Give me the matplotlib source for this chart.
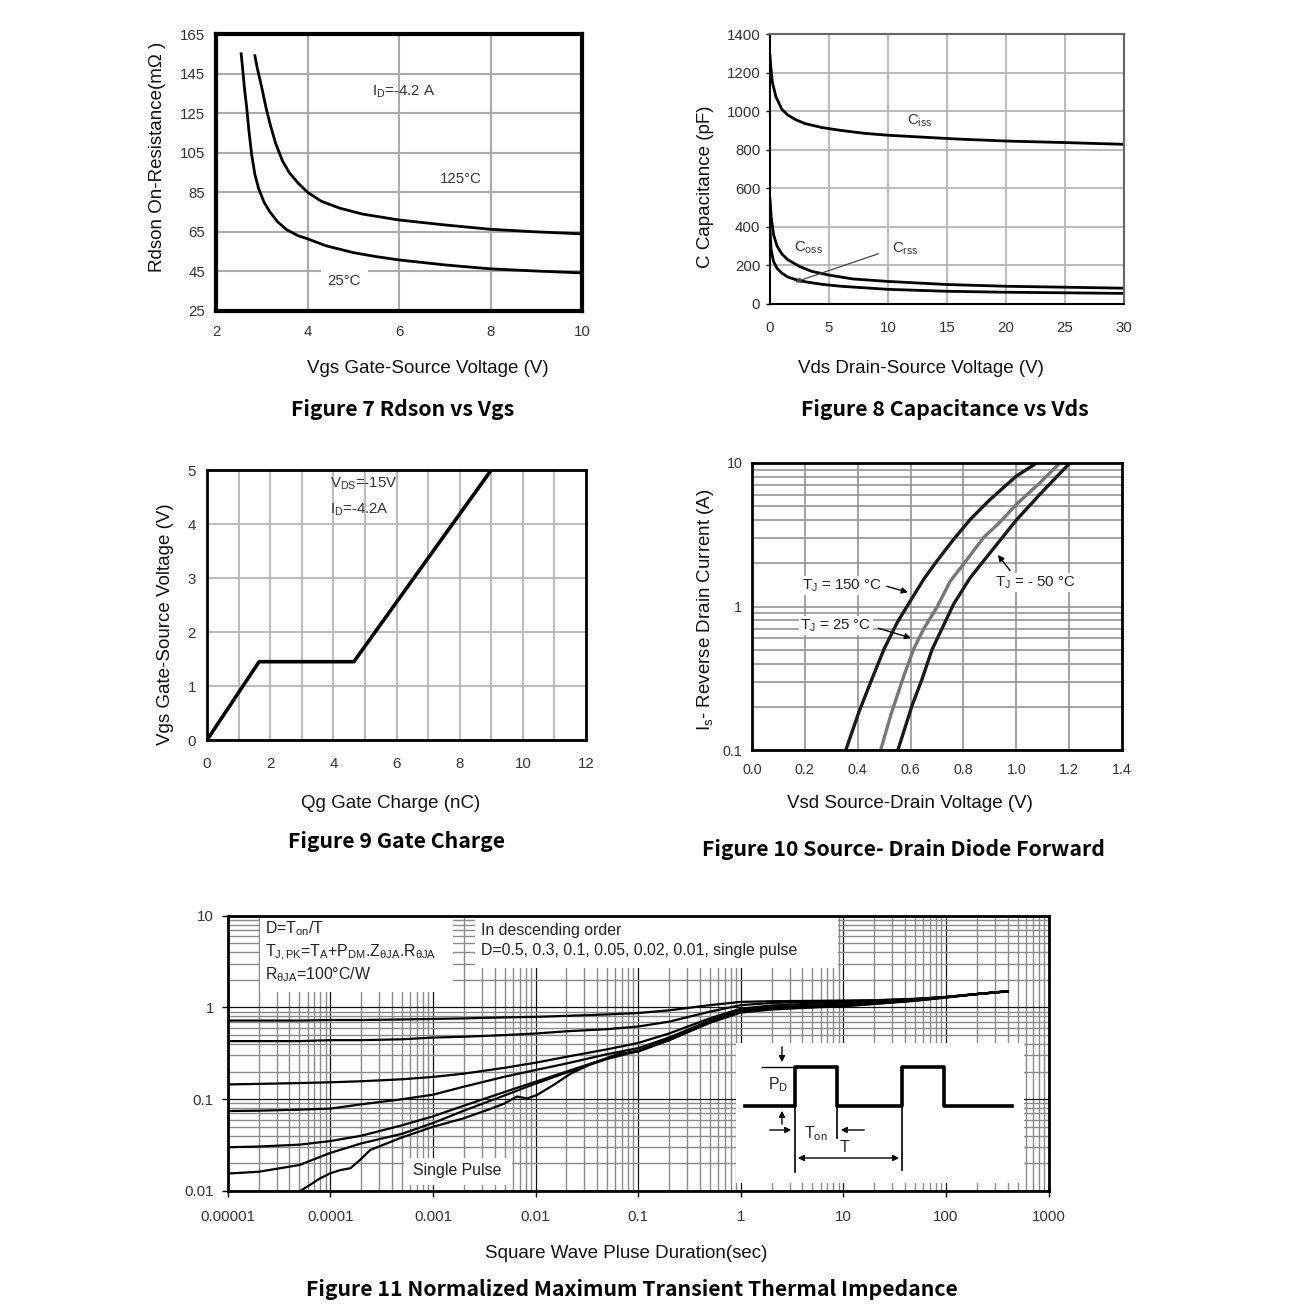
import numpy as np
import matplotlib
matplotlib.use('Agg')
import matplotlib.pyplot as plt
from matplotlib.patches import Rectangle
from matplotlib.ticker import LogLocator, NullFormatter

plt.rcParams['font.family'] = ['Liberation Sans', 'DejaVu Sans']
plt.rcParams['mathtext.fontset'] = 'custom'
plt.rcParams['mathtext.rm'] = 'Liberation Sans'
plt.rcParams['mathtext.it'] = 'Liberation Sans'
plt.rcParams['mathtext.default'] = 'regular'

# ---- data: Figure 7 Rdson vs Vgs
vgs_25 = [2.55, 2.58, 2.62, 2.67, 2.72, 2.78, 2.85, 2.93, 3.05, 3.18, 3.35, 3.55, 3.8, 4.0, 4.4, 5.0, 5.5, 6.0, 7.0, 8.0, 9.0, 9.95]
rds_25 = [155, 148, 138, 128, 116, 104, 94, 87, 80, 75, 70, 66, 63, 61.5, 58, 54.5, 52.5, 50.8, 48.3, 46.3, 45.2, 44.3]
vgs_125 = [2.85, 2.9, 3.0, 3.1, 3.2, 3.3, 3.45, 3.6, 3.8, 4.0, 4.3, 4.7, 5.2, 6.0, 7.0, 8.0, 9.0, 10.0]
rds_125 = [154, 148, 138, 127, 118, 110, 101, 95, 89.5, 85, 80.5, 77, 74, 71, 68.5, 66.3, 65, 64]

# ---- data: Figure 8 Capacitance vs Vds
vds_iss = [0, 0.05, 0.2, 0.5, 1.0, 1.5, 2.2, 3, 4.4, 6, 8, 10, 13, 16, 20, 25, 30]
c_iss = [1290, 1240, 1150, 1075, 1010, 980, 955, 935, 915, 900, 885, 875, 865, 855, 845, 837, 828]
vds_oss = [0, 0.1, 0.3, 0.6, 1, 1.5, 2.5, 3.5, 5, 7, 10, 15, 20, 25, 30]
c_oss = [545, 450, 360, 300, 260, 230, 195, 170, 150, 130, 117, 101, 92, 87, 82]
vds_rss = [0, 0.1, 0.3, 0.6, 1, 1.5, 2.2, 3, 4.4, 6, 10, 15, 20, 25, 30]
c_rss = [380, 280, 220, 185, 160, 140, 126, 115, 102, 92, 76, 66, 61, 58, 55]

# ---- data: Figure 9 Gate charge
qg = [0, 1.65, 4.65, 9.0]
vgs_q = [0, 1.45, 1.45, 5.0]

# ---- data: Figure 10 Source-drain diode forward
vsd_150 = [0.355, 0.405, 0.45, 0.5, 0.55, 0.6, 0.65, 0.70, 0.763, 0.826, 0.901, 1.0, 1.077]
is_150 = [0.1, 0.185, 0.3, 0.507, 0.776, 1.1, 1.55, 2.08, 2.94, 4.05, 5.57, 8.1, 10]
vsd_25 = [0.487, 0.525, 0.575, 0.612, 0.65, 0.70, 0.75, 0.80, 0.876, 0.94, 1.0, 1.09, 1.165]
is_25 = [0.1, 0.175, 0.331, 0.507, 0.7, 0.99, 1.5, 1.97, 3.02, 3.9, 5.14, 7.3, 10]
vsd_m50 = [0.552, 0.606, 0.644, 0.681, 0.763, 0.826, 0.901, 1.0, 1.10, 1.203]
is_m50 = [0.1, 0.205, 0.314, 0.5, 1.04, 1.59, 2.37, 4.0, 6.35, 10]

# ---- data: Figure 11 Transient thermal impedance
tp = [1e-5, 2e-5, 5e-5, 1e-4, 2e-4, 5e-4, 1e-3, 2e-3, 5e-3, 1e-2, 2e-2, 5e-2,
      1e-1, 2e-1, 5e-1, 1, 2, 5, 10, 20, 50, 100, 200, 400]
z_05 = [0.72, 0.72, 0.72, 0.73, 0.73, 0.74, 0.75, 0.76, 0.78, 0.79, 0.81, 0.84,
        0.87, 0.93, 1.06, 1.15, 1.17, 1.18, 1.19, 1.2, 1.24, 1.3, 1.4, 1.5]
z_03 = [0.43, 0.43, 0.43, 0.44, 0.44, 0.45, 0.47, 0.48, 0.5, 0.52, 0.55, 0.58,
        0.62, 0.7, 0.9, 1.06, 1.12, 1.15, 1.17, 1.19, 1.24, 1.3, 1.4, 1.5]
z_01 = [0.145, 0.147, 0.15, 0.153, 0.157, 0.165, 0.175, 0.19, 0.22, 0.25, 0.29, 0.35,
        0.41, 0.52, 0.76, 0.97, 1.05, 1.1, 1.13, 1.17, 1.23, 1.3, 1.4, 1.5]
z_005 = [0.0745, 0.075, 0.077, 0.079, 0.088, 0.1, 0.112, 0.137, 0.176, 0.208, 0.245, 0.31,
         0.36, 0.47, 0.72, 0.93, 1.0, 1.05, 1.08, 1.13, 1.22, 1.3, 1.4, 1.5]
z_002 = [0.030, 0.0305, 0.032, 0.035, 0.04, 0.052, 0.065, 0.085, 0.12, 0.155, 0.2, 0.28,
         0.34, 0.45, 0.7, 0.92, 0.99, 1.03, 1.06, 1.11, 1.2, 1.29, 1.4, 1.5]
z_001 = [0.0155, 0.0162, 0.0192, 0.026, 0.033, 0.042, 0.055, 0.075, 0.11, 0.148, 0.195, 0.275,
         0.335, 0.44, 0.69, 0.9, 0.97, 1.01, 1.04, 1.1, 1.19, 1.29, 1.4, 1.5]
tp_sp = [5.07e-5, 6.3e-5, 7.9e-5, 1e-4, 1.25e-4, 1.57e-4, 1.95e-4, 2.45e-4, 3.55e-4, 5.2e-4,
         1e-3, 2e-3, 3.35e-3, 4.9e-3, 6.6e-3, 8.3e-3, 1.03e-2, 1.5e-2, 2.2e-2, 3.6e-2, 6.6e-2,
         0.1, 0.2, 0.5, 1, 2, 5, 10, 20, 50, 100, 200, 400]
z_sp = [0.01, 0.0116, 0.0137, 0.0156, 0.0169, 0.0177, 0.0218, 0.028, 0.033, 0.039,
        0.05, 0.062, 0.076, 0.089, 0.107, 0.102, 0.111, 0.143, 0.19, 0.246, 0.315,
        0.33, 0.44, 0.68, 0.88, 0.95, 1.0, 1.03, 1.09, 1.18, 1.28, 1.4, 1.5]
z_curves = [z_05, z_03, z_01, z_005, z_002, z_001]

W, H = 1291, 1315
fig = plt.figure(figsize=(W / 100, H / 100), dpi=100)


def box(x0, y0, x1, y1):
    return fig.add_axes([x0 / W, 1 - y1 / H, (x1 - x0) / W, (y1 - y0) / H])


def ftext(x, y, s, **kw):
    kw.setdefault('ha', 'center')
    kw.setdefault('va', 'center')
    fig.text(x / W, 1 - y / H, s, **kw)


title_font = dict(family=['Noto Sans CJK SC', 'DejaVu Sans'], fontweight='bold', fontsize=15.3)
lab = dict(fontsize=13.5, color='#111')
TICK = '#333333'
ANN = '#333333'
TS = 10.8  # tick label size
AS = 10.8  # annotation size

# ================= Figure 7
ax = box(216, 34, 582, 311)
ax.plot(vgs_25, rds_25, color='k', lw=2)
ax.plot(vgs_125, rds_125, color='k', lw=2)
ax.set_xlim(2, 10)
ax.set_ylim(25, 165)
ax.set_xticks(range(2, 11, 2))
ax.set_yticks(range(25, 166, 20))
ax.grid(color='#ababab', lw=1.5)
ax.set_axisbelow(True)
for s in ax.spines.values():
    s.set_linewidth(3)
    s.set_color('k')
ax.tick_params(axis='y', length=0, labelsize=TS, labelcolor=TICK, pad=8)
ax.tick_params(axis='x', length=0, labelsize=TS, labelcolor=TICK, pad=10)
ax.text(5.4, 136, r'I$_D$=-4.2 A', fontsize=AS, color=ANN, va='center')
ax.text(6.9, 91.6, '125°C', fontsize=AS, color=ANN, va='center')
ax.text(4.8, 40.3, '25°C', fontsize=AS, color=ANN, va='center', ha='center',
        bbox=dict(fc='white', ec='none', pad=5))
ftext(428, 368, 'Vgs Gate-Source Voltage (V)', **lab)
ftext(158, 157, 'Rdson On-Resistance(m\u03a9 )', rotation=90, **lab)
ftext(403, 410, 'Figure 7 Rdson vs Vgs', **title_font)

# ================= Figure 8
ax = box(770, 34, 1124, 304)
ax.plot(vds_iss, c_iss, color='k', lw=2)
ax.plot(vds_oss, c_oss, color='k', lw=2)
ax.plot(vds_rss, c_rss, color='k', lw=2)
ax.set_xlim(0, 30)
ax.set_ylim(0, 1400)
ax.set_xticks(range(0, 31, 5))
ax.set_yticks(range(0, 1401, 200))
ax.grid(color='#b5b5b5', lw=1.3)
ax.set_axisbelow(True)
for side, s in ax.spines.items():
    s.set_linewidth(1.5)
    s.set_color('k' if side in ('left', 'bottom') else '#666')
ax.tick_params(axis='y', length=3, width=1, labelsize=TS, labelcolor=TICK, pad=4)
ax.tick_params(axis='x', length=0, labelsize=TS, labelcolor=TICK, pad=12)
ax.text(12.7, 949, r'C$_{iss}$', fontsize=AS, color=ANN, ha='center', va='center')
ax.text(3.3, 291, r'C$_{oss}$', fontsize=AS, color=ANN, ha='center', va='center')
ax.text(11.5, 286, r'C$_{rss}$', fontsize=AS, color=ANN, ha='center', va='center')
ax.annotate('', xy=(1.9, 109), xytext=(9.4, 265),
            arrowprops=dict(arrowstyle='-|>', color='#444', lw=0.9, mutation_scale=8))
ftext(921, 368, 'Vds Drain-Source Voltage (V)', **lab)
ftext(705, 187, 'C Capacitance (pF)', rotation=90, **lab)
ftext(945, 410, 'Figure 8 Capacitance vs Vds', **title_font)

# ================= Figure 9
ax = box(207, 470, 586, 740)
ax.plot(qg, vgs_q, color='k', lw=2.6)
ax.set_xlim(0, 12)
ax.set_ylim(0, 5)
ax.set_xticks(range(0, 13, 2))
ax.set_xticks(range(0, 13), minor=True)
ax.set_yticks(range(0, 6))
ax.grid(which='both', color='#b5b5b5', lw=1.3)
ax.set_axisbelow(True)
for s in ax.spines.values():
    s.set_linewidth(2)
    s.set_color('k')
ax.tick_params(axis='y', which='both', length=0, labelsize=TS, labelcolor=TICK, pad=8)
ax.tick_params(axis='x', which='both', length=0, labelsize=TS, labelcolor=TICK, pad=12)
ax.text(3.9, 4.74, r'V$_{DS}$=-15V', fontsize=AS, color=ANN, va='center')
ax.text(3.9, 4.27, r'I$_D$=-4.2A', fontsize=AS, color=ANN, va='center')
ftext(391, 803, 'Qg Gate Charge (nC)', **lab)
ftext(165, 624, 'Vgs Gate-Source Voltage (V)', rotation=90, **lab)
ftext(396, 841, 'Figure 9 Gate Charge', **title_font)

# ================= Figure 10
ax = box(752, 463, 1122, 750)
ax.set_yscale('log')
ax.plot(vsd_150, is_150, color='#1a1a1a', lw=2.4)
ax.plot(vsd_25, is_25, color='#777777', lw=2.4)
ax.plot(vsd_m50, is_m50, color='#1a1a1a', lw=2.4)
ax.set_xlim(0, 1.4)
ax.set_ylim(0.1, 10)
ax.set_xticks(np.arange(0, 1.41, 0.2))
ax.set_xticklabels(['0.0', '0.2', '0.4', '0.6', '0.8', '1.0', '1.2', '1.4'])
ax.set_yticks([0.1, 1, 10])
ax.set_yticklabels(['0.1', '1', '10'])
ax.yaxis.set_minor_locator(LogLocator(base=10, subs=np.arange(2, 10)))
ax.yaxis.set_minor_formatter(NullFormatter())
ax.grid(which='both', color='#8c8c8c', lw=1.1)
ax.set_axisbelow(True)
for s in ax.spines.values():
    s.set_linewidth(2)
    s.set_color('k')
ax.tick_params(axis='y', which='both', length=0, labelsize=10.3, labelcolor=TICK, pad=7)
ax.tick_params(axis='x', which='both', length=0, labelsize=10.3, labelcolor=TICK, pad=9)
ax.text(0.34, 1.4, r'T$_J$ = 150 °C', fontsize=AS, color='#222', ha='center', va='center',
        bbox=dict(fc='white', ec='none', pad=1))
ax.annotate('', xy=(0.6, 1.24), xytext=(0.5, 1.4),
            arrowprops=dict(arrowstyle='-|>', color='k', lw=1, mutation_scale=9))
ax.text(0.317, 0.736, r'T$_J$ = 25 °C', fontsize=AS, color='#222', ha='center', va='center',
        bbox=dict(fc='white', ec='none', pad=1))
ax.annotate('', xy=(0.612, 0.595), xytext=(0.468, 0.715),
            arrowprops=dict(arrowstyle='-|>', color='k', lw=1, mutation_scale=9))
ax.text(1.07, 1.47, r'T$_J$ = - 50 °C', fontsize=AS, color='#222', ha='center', va='center',
        bbox=dict(fc='white', ec='none', pad=1))
ax.annotate('', xy=(0.924, 2.37), xytext=(0.983, 1.72),
            arrowprops=dict(arrowstyle='-|>', color='k', lw=1, mutation_scale=9))
ftext(910, 803, 'Vsd Source-Drain Voltage (V)', **lab)
ftext(705, 610, r'I$_s$- Reverse Drain Current (A)', rotation=90, **lab)
ftext(903, 850, 'Figure 10 Source- Drain Diode Forward', **title_font)

# ================= Figure 11
ax = box(227.7, 915.7, 1048.5, 1191)
ax.set_xscale('log')
ax.set_yscale('log')
for z in z_curves:
    ax.plot(tp, z, color='k', lw=1.6, zorder=3)
ax.plot(tp_sp, z_sp, color='k', lw=1.6, zorder=3)
ax.set_xlim(1e-5, 1e3)
ax.set_ylim(0.01, 10)
xt = [1e-5, 1e-4, 1e-3, 1e-2, 1e-1, 1, 10, 100, 1000]
ax.set_xticks(xt)
ax.set_xticklabels(['0.00001', '0.0001', '0.001', '0.01', '0.1', '1', '10', '100', '1000'])
ax.set_yticks([0.01, 0.1, 1, 10])
ax.set_yticklabels(['0.01', '0.1', '1', '10'])
ax.xaxis.set_minor_locator(LogLocator(base=10, subs=np.arange(2, 10), numticks=20))
ax.yaxis.set_minor_locator(LogLocator(base=10, subs=np.arange(2, 10), numticks=20))
ax.xaxis.set_minor_formatter(NullFormatter())
ax.yaxis.set_minor_formatter(NullFormatter())
ax.grid(which='minor', color='#8a8a8a', lw=1.0)
ax.grid(which='major', color='#111', lw=0.9)
ax.set_axisbelow(True)
for s in ax.spines.values():
    s.set_linewidth(2)
    s.set_color('k')
ax.tick_params(axis='y', which='major', length=4, width=1, labelsize=TS, labelcolor=TICK, pad=6)
ax.tick_params(axis='x', which='major', length=4, width=1, labelsize=TS, labelcolor=TICK, pad=10)
ax.tick_params(which='minor', length=0)
# white label boxes covering the grid
for (xa, xb, ya, yb) in [(2.05e-5, 1.57e-3, 1.48, 10), (2.57e-3, 8.9, 2.66, 10),
                         (5.25e-4, 5.9e-3, 0.0115, 0.0229)]:
    ax.add_patch(Rectangle((xa, ya), xb - xa, yb - ya, fc='white', ec='none', zorder=1))
BS = 11.4
ftext(265, 929, r'D=T$_{on}$/T', fontsize=BS, color='#222', ha='left')
ftext(265, 953, 'T$_{J,PK}$=T$_A$+P$_{DM}$.Z$_{θJA}$.R$_{θJA}$', fontsize=BS, color='#222', ha='left')
ftext(265, 975, 'R$_{θJA}$=100°C/W', fontsize=BS, color='#222', ha='left')
ftext(481, 930, 'In descending order', fontsize=BS, color='#222', ha='left')
ftext(481, 951, 'D=0.5, 0.3, 0.1, 0.05, 0.02, 0.01, single pulse', fontsize=BS, color='#222', ha='left')
ftext(457, 1170, 'Single Pulse', fontsize=BS, color='#222')
ftext(626, 1254, 'Square Wave Pluse Duration(sec)', **lab)
ftext(632, 1290, 'Figure 11 Normalized Maximum Transient Thermal Impedance', **title_font)

# inset pulse diagram
ins = box(736, 1043, 1024, 1183)
ins.set_xlim(0, 288)
ins.set_ylim(140, 0)
ins.axis('off')
ins.add_patch(Rectangle((0, 0), 288, 140, fc='white', ec='none'))
wave_x = [9, 59, 59, 101, 101, 166, 166, 208, 208, 276]
wave_y = [63, 63, 24, 24, 63, 63, 24, 24, 63, 63]
ins.plot(wave_x, wave_y, color='k', lw=2.6)
ins.plot([26, 57], [24, 24], color='k', lw=1)
ins.plot([59, 59], [63, 129], color='k', lw=1.2)
ins.plot([101, 101], [63, 95], color='k', lw=1.2)
ins.plot([166, 166], [63, 127], color='k', lw=1.2)
arr = dict(arrowstyle='-|>', color='k', lw=1, mutation_scale=9)
ins.annotate('', xy=(46, 22), xytext=(46, 1), arrowprops=arr)
ins.annotate('', xy=(46, 65), xytext=(46, 84), arrowprops=arr)
ins.annotate('', xy=(58, 87), xytext=(31, 87), arrowprops=arr)
ins.annotate('', xy=(102, 87), xytext=(131, 87), arrowprops=arr)
ins.annotate('', xy=(166, 115), xytext=(59, 115),
             arrowprops=dict(arrowstyle='<|-|>', color='k', lw=1, mutation_scale=9))
ins.text(42, 42, r'P$_D$', fontsize=BS, color='#222', ha='center', va='center')
ins.text(80, 91, r'T$_{on}$', fontsize=BS, color='#222', ha='center', va='center')
ins.text(109, 105, 'T', fontsize=BS, color='#222', ha='center', va='center')

fig.savefig('out.png', dpi=100)
